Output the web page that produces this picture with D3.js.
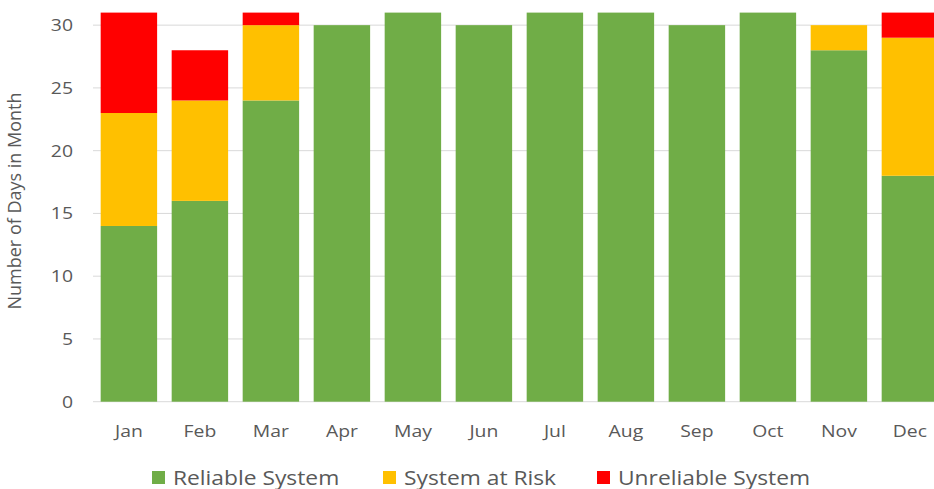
<!DOCTYPE html>
<html>
<head>
<meta charset="utf-8">
<script src="https://cdn.jsdelivr.net/npm/d3@7"></script>
<style>
  html, body { margin: 0; padding: 0; background: #fff; }
  svg { display: block; font-family: "Open Sans", Lato, sans-serif; }
</style>
</head>
<body>
<svg id="chart" width="934" height="489"></svg>
<script>
// Monthly system reliability, days per category
const months = ["Jan","Feb","Mar","Apr","May","Jun","Jul","Aug","Sep","Oct","Nov","Dec"];
const reliable   = [14, 16, 24, 30, 31, 30, 31, 31, 30, 31, 28, 18];
const atRisk     = [ 9,  8,  6,  0,  0,  0,  0,  0,  0,  0,  2, 11];
const unreliable = [ 8,  4,  1,  0,  0,  0,  0,  0,  0,  0,  0,  2];
const seriesNames = ["Reliable System", "System at Risk", "Unreliable System"];
const seriesColors = ["#70AD47", "#FFC000", "#FF0000"];
const yTicks = [0, 5, 10, 15, 20, 25, 30];

const rows = months.map((m, i) => ({
  month: m,
  "Reliable System": reliable[i],
  "System at Risk": atRisk[i],
  "Unreliable System": unreliable[i]
}));

const svg = d3.select("#chart");
const textColor = "#595959";
const widen = 1.14; // horizontal stretch applied to horizontal labels

const x = d3.scaleBand()
  .domain(months)
  .range([93.4, 945.4])
  .paddingInner(0.205)
  .paddingOuter(0.1025);

const y = d3.scaleLinear()
  .domain([0, 31])
  .range([401.7, 12.6]);

// horizontal gridlines
svg.append("g")
  .selectAll("line")
  .data(yTicks)
  .join("line")
  .attr("x1", 93).attr("x2", 934)
  .attr("y1", d => y(d)).attr("y2", d => y(d))
  .attr("stroke", "#D9D9D9")
  .attr("stroke-width", 1);

// y tick labels
const yAxis = svg.append("g")
  .attr("transform", "translate(73,0)")
  .call(d3.axisLeft(y).tickValues(yTicks).tickSize(0).tickPadding(0));
yAxis.select(".domain").remove();
yAxis.selectAll("text")
  .attr("fill", textColor)
  .attr("transform", `scale(${widen},1)`)
  .style("font-size", "17px")
  .style("font-family", "'Open Sans', sans-serif");

// stacked bars
const layers = d3.stack().keys(seriesNames)(rows);

svg.append("g")
  .selectAll("g")
  .data(layers)
  .join("g")
  .attr("fill", (d, i) => seriesColors[i])
  .selectAll("rect")
  .data(d => d)
  .join("rect")
  .attr("x", d => x(d.data.month))
  .attr("width", x.bandwidth())
  .attr("y", d => y(d[1]))
  .attr("height", d => y(d[0]) - y(d[1]));

// x axis labels
const xAxis = svg.append("g")
  .attr("transform", "translate(0,401.7)")
  .call(d3.axisBottom(x).tickSize(0).tickPadding(23));
xAxis.select(".domain").remove();
xAxis.selectAll("text")
  .attr("fill", textColor)
  .attr("transform", `scale(${widen},1)`)
  .style("font-size", "17px")
  .style("font-family", "'Open Sans', sans-serif");

// y axis title
svg.append("text")
  .attr("transform", "translate(21,201) rotate(-90)")
  .attr("text-anchor", "middle")
  .attr("fill", textColor)
  .style("font-size", "18px")
  .text("Number of Days in Month");

// legend
const legendX = [152, 383, 597];
const legend = svg.append("g");
seriesNames.forEach((name, i) => {
  const g = legend.append("g").attr("transform", `translate(${legendX[i]},0)`);
  g.append("rect")
    .attr("x", 0).attr("y", 471)
    .attr("width", 13).attr("height", 13)
    .attr("fill", seriesColors[i]);
  g.append("text")
    .attr("transform", `translate(21,484.5) scale(${widen},1)`)
    .attr("fill", textColor)
    .style("font-size", "20px")
    .text(name);
});
</script>
</body>
</html>
